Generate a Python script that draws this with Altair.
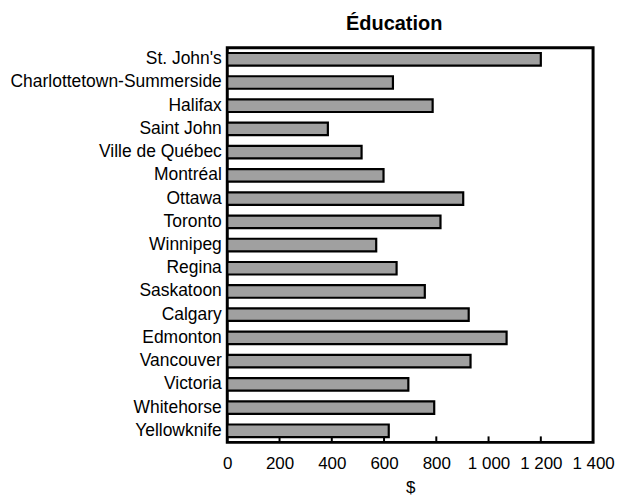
import altair as alt
import pandas as pd

cities = ["St. John's", "Charlottetown-Summerside", "Halifax", "Saint John",
          "Ville de Québec", "Montréal", "Ottawa", "Toronto", "Winnipeg",
          "Regina", "Saskatoon", "Calgary", "Edmonton", "Vancouver",
          "Victoria", "Whitehorse", "Yellowknife"]
values = [1200, 634, 786, 385, 514, 598, 903, 816, 570, 648, 756, 924,
          1069, 931, 693, 792, 618]
tick_values = [200, 400, 600, 800, 1000, 1200]

df = pd.DataFrame({"city": cities, "value": values})
ticks = pd.DataFrame({"v": tick_values})

FONT = "Liberation Sans"
W, H = 367, 396

xscale = alt.Scale(domain=[0, 1400], nice=False, zero=True)

bars = alt.Chart(df).mark_bar(
    fill="#a0a0a0", stroke="black", strokeWidth=2.2
).encode(
    y=alt.Y("city:N", sort=cities, title=None,
            scale=alt.Scale(paddingInner=0.46, paddingOuter=0.23),
            axis=alt.Axis(ticks=False, domain=False, labelFontSize=17.5,
                          labelFont=FONT, labelColor="black", labelPadding=6,
                          labelLimit=400)),
    x=alt.X("value:Q", scale=xscale, title="$",
            axis=alt.Axis(values=[0, 200, 400, 600, 800, 1000, 1200, 1400],
                          labelExpr="replace(format(datum.value, ','), ',', ' ')",
                          ticks=False, domain=False, grid=False,
                          labelFontSize=17, labelFont=FONT, labelColor="black",
                          labelPadding=13, titleFontSize=17, titleFont=FONT,
                          titleFontWeight="normal", titleColor="black",
                          titlePadding=8, labelFlush=False)),
)

inner_ticks = alt.Chart(ticks).mark_rule(color="black", strokeWidth=2).encode(
    x=alt.X("v:Q", scale=xscale),
    y=alt.value(H),
    y2=alt.value(H - 6),
)

chart = alt.layer(bars, inner_ticks).properties(
    width=W, height=H,
    title=alt.TitleParams("Éducation", fontSize=20, fontWeight="bold",
                          font=FONT, color="black", dx=-16, offset=14),
    autosize=alt.AutoSizeParams(type="none"),
    padding={"left": 220, "top": 39, "right": 22, "bottom": 55},
).configure(
    background="white",
    view=alt.ViewConfig(stroke="black", strokeWidth=3),
)

chart.save("out.html", embed_options={"renderer": "svg", "actions": False})
